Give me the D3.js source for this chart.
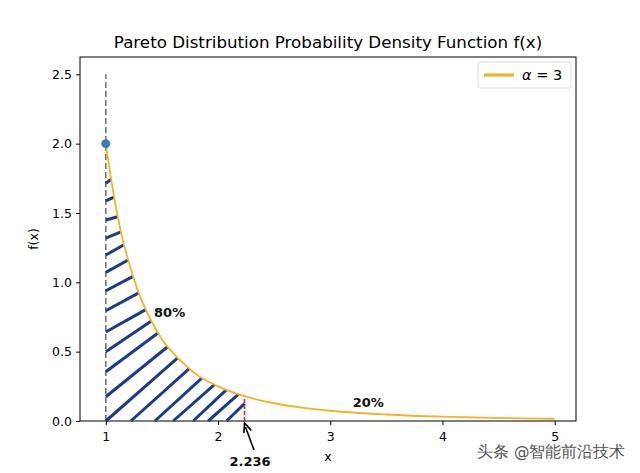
<!DOCTYPE html>
<html><head><meta charset="utf-8">
<script src="https://cdn.jsdelivr.net/npm/d3@7"></script>
<style>
body{margin:0;background:#fff;}
text{font-family:"DejaVu Sans",sans-serif;}
</style></head>
<body><svg id="chart" width="640" height="473"></svg>
<script>
// ---- data ----
const xValues = [1, 1.05, 1.1, 1.15, 1.2, 1.3, 1.4, 1.5, 1.6, 1.7, 1.8, 2.0, 2.236, 2.5, 2.75, 3, 3.5, 4, 4.5, 5];
const yValues = [2.0, 1.73, 1.50, 1.31, 1.16, 0.91, 0.73, 0.59, 0.49, 0.41, 0.34, 0.25, 0.179, 0.128, 0.096, 0.074, 0.047, 0.031, 0.022, 0.016];
const xTicks = [1, 2, 3, 4, 5];
const yTicks = [0.0, 0.5, 1.0, 1.5, 2.0, 2.5];
const startPoint = [1, 2.0];
const quantileX = 2.236;
const dashTop = 2.5;
const quantileLabel = "2.236";
const shareLabels = [{text: "80%", x: 1.43, y: 0.75}, {text: "20%", x: 3.2, y: 0.1}];
const legendLabel = "α = 3";
const titleText = "Pareto Distribution Probability Density Function f(x)";

// ---- hatch styling: arc-length offsets (px) along the inner boundary and along the curve ----
const hatchStarts = [39.7, 57.1, 76.4, 94.4, 111.4, 128.7, 147.1, 167.1, 188.4, 208.1, 228.1, 253.1, 277.4, 302.4, 326.4, 344.7, 364.7, 379.7, 398.1];
const hatchEnds = [36, 54.1, 74, 89.5, 102.7, 118.6, 135.6, 153.1, 171.3, 184, 197.7, 214.5, 229.4, 245.2, 261, 275.2, 288.2, 301.2, 315];

const svg = d3.select("#chart");
const m = {l: 80, r: 576, t: 57, b: 421};
const x = d3.scaleLinear().domain([0.77, 5.19]).range([m.l, m.r]);
const y = d3.scaleLinear().domain([0, 2.625]).range([m.b, m.t]);
const pts = xValues.map((v, i) => [v, yValues[i]]);
const qi = xValues.indexOf(quantileX);
const qY = yValues[qi];

const gold = "#f0b429";

// title
svg.append("text").attr("x", (m.l + m.r) / 2).attr("y", 48).attr("text-anchor", "middle")
  .attr("font-size", 16.7).text(titleText);

// axes
const xAxis = d3.axisBottom(x).tickValues(xTicks).tickFormat(d3.format("d")).tickSizeOuter(0).tickSize(4);
const yAxis = d3.axisLeft(y).tickValues(yTicks).tickFormat(d3.format(".1f")).tickSizeOuter(0).tickSize(4);
const gx = svg.append("g").attr("transform", `translate(0,${m.b})`).call(xAxis);
const gy = svg.append("g").attr("transform", `translate(${m.l},0)`).call(yAxis);
[gx, gy].forEach(g => {
  g.select(".domain").remove();
  g.selectAll("text").attr("font-family", "DejaVu Sans").attr("font-size", 12.5).attr("fill", "#000");
  g.selectAll("line").attr("stroke", "#000");
});
gx.selectAll("text").attr("dy", "1.05em");
gy.selectAll("text").attr("dx", "-1");
svg.append("rect").attr("x", m.l).attr("y", m.t).attr("width", m.r - m.l).attr("height", m.b - m.t)
  .attr("fill", "none").attr("stroke", "#000").attr("stroke-width", 1);

svg.append("text").attr("x", (m.l + m.r) / 2).attr("y", 461).attr("text-anchor", "middle")
  .attr("font-size", 12.5).text("x");
svg.append("text").attr("transform", `translate(38,${(m.t + m.b) / 2}) rotate(-90)`)
  .attr("text-anchor", "middle").attr("font-size", 12.5).text("f(x)");

// grey dashed vertical line at x=1
svg.append("line").attr("x1", x(startPoint[0])).attr("x2", x(startPoint[0]))
  .attr("y1", y(0)).attr("y2", y(dashTop))
  .attr("stroke", "#777").attr("stroke-width", 1.6).attr("stroke-dasharray", "6,3");

// hatch lines between points on the left/bottom boundary and on the curve
const line = d3.line().x(d => x(d[0])).y(d => y(d[1])).curve(d3.curveMonotoneX);
const curvePts = pts.slice(0, qi + 1);
const outerPath = line(curvePts) + `L${x(quantileX)},${y(0)}`;
const innerPath = `M${x(startPoint[0])},${y(startPoint[1])}L${x(startPoint[0])},${y(0)}L${x(quantileX)},${y(0)}L${x(quantileX)},${y(qY)}`;
const defs = svg.append("g").attr("visibility", "hidden");
const op = defs.append("path").attr("d", outerPath).node();
const ip = defs.append("path").attr("d", innerPath).node();
const hatch = svg.append("g");
hatchStarts.forEach((s, i) => {
  const a = ip.getPointAtLength(Math.min(s, ip.getTotalLength()));
  const b = op.getPointAtLength(Math.min(hatchEnds[i], op.getTotalLength()));
  hatch.append("line").attr("x1", a.x).attr("y1", a.y).attr("x2", b.x).attr("y2", b.y)
    .attr("stroke", "#1a3c8c").attr("stroke-width", 3).attr("stroke-linecap", "butt");
});

// red dashed quantile line
svg.append("line").attr("x1", x(quantileX)).attr("x2", x(quantileX))
  .attr("y1", y(0)).attr("y2", y(qY))
  .attr("stroke", "#d62728").attr("stroke-width", 1.6).attr("stroke-dasharray", "4,2");

// pdf curve
svg.append("path").datum(pts).attr("d", line).attr("fill", "none")
  .attr("stroke", gold).attr("stroke-width", 1.8);

// start point
svg.append("circle").attr("cx", x(startPoint[0])).attr("cy", y(startPoint[1])).attr("r", 4.5)
  .attr("fill", "#3f7aab");

// share labels
shareLabels.forEach(s => {
  svg.append("text").attr("x", x(s.x)).attr("y", y(s.y)).attr("font-size", 13).attr("font-weight", "bold")
    .attr("fill", "#111").text(s.text);
});

// annotation arrow
const ax = x(quantileX), ay = y(0) + 2;
const tx = 254, ty = 450;
svg.append("line").attr("x1", tx).attr("y1", ty).attr("x2", ax + 1).attr("y2", ay + 4)
  .attr("stroke", "#000").attr("stroke-width", 1.6);
const ang = Math.atan2(ay - ty, ax - tx);
const hl = 10, hw = 0.4;
svg.append("path").attr("d",
  `M${ax + hl * Math.cos(ang + Math.PI - hw)},${ay + hl * Math.sin(ang + Math.PI - hw)}L${ax},${ay}L${ax + hl * Math.cos(ang + Math.PI + hw)},${ay + hl * Math.sin(ang + Math.PI + hw)}`)
  .attr("fill", "none").attr("stroke", "#000").attr("stroke-width", 1.6);
svg.append("text").attr("x", 250).attr("y", 466).attr("text-anchor", "middle").attr("font-size", 13)
  .attr("font-weight", "bold").attr("fill", "#111").text(quantileLabel);

// legend
const lg = svg.append("g");
lg.append("rect").attr("x", 478).attr("y", 62).attr("width", 93).attr("height", 26).attr("rx", 2)
  .attr("fill", "#fff").attr("stroke", "#ddd");
lg.append("line").attr("x1", 484).attr("x2", 514).attr("y1", 75).attr("y2", 75)
  .attr("stroke", gold).attr("stroke-width", 3.2);
const lt = lg.append("text").attr("x", 522).attr("y", 80).attr("font-size", 14.5);
lt.append("tspan").attr("font-style", "italic").text(legendLabel.slice(0, 1));
lt.append("tspan").text(legendLabel.slice(1));

// watermark
svg.append("text").attr("x", 477).attr("y", 457).attr("font-size", 15.5)
  .attr("font-family", "Noto Sans CJK SC").attr("fill", "#555")
  .attr("stroke", "#fff").attr("stroke-width", 0.6).attr("paint-order", "stroke")
  .text("头条 @智能前沿技术");
</script></body></html>
